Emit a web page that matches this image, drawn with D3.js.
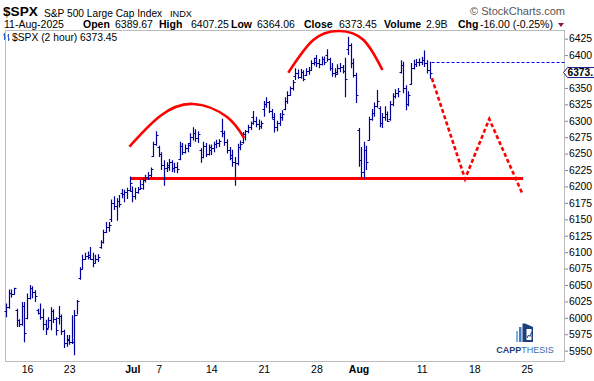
<!DOCTYPE html>
<html><head><meta charset="utf-8">
<script src="https://cdn.jsdelivr.net/npm/d3@7"></script>
<style>
html,body{margin:0;padding:0;background:#fff;}
svg{display:block;}
text{font-family:"Liberation Sans",Arial,sans-serif;}
</style></head>
<body>
<svg id="chart" width="594" height="381"></svg>
<script>
// ---- data: 2-hour OHLC bars, $SPX, 12-Jun-2025 .. 11-Aug-2025 ----
const opens = [
6010,6016,6038,6036, 6012,5996,5990,6018, 6000,6030,6046,6040, 6012,6008,6002,5990,
5985,5996,6010,5999, 6000,6003,5980,5962, 5966,5963,5963,6005, 6061,6075,6090,6094,
6096,6090,6084,6090, 6108,6115,6130,6138, 6150,6175,6170,6178, 6190,6188,6192,6194,
6193,6186,6192,6196, 6204,6210,6214,6218, 6246,6265, 6260,6250,6232,6228,
6233,6238,6228,6230, 6242,6262,6252,6258, 6266,6275,6282,6274, 6255,6245,6262,6250,
6255,6258,6264,6266, 6285,6282,6268,6255, 6248,6238,6235,6260, 6268,6280,6284,6290,
6305,6300,6295,6292, 6318,6325,6328,6315, 6302,6290,6296,6306, 6318,6330,6340,6350,
6368,6372,6366,6374, 6370,6376,6378,6388, 6396,6388,6386,6394, 6400,6394,6380,6372,
6375,6380,6382,6376, 6410,6415,6388,6370, 6286,6240,6222,6255, 6271,6302,6312,6322,
6320,6296,6305,6310, 6302,6325,6338,6342, 6375,6385,6350,6326, 6356,6380,6386,6390,
6390,6392,6388,6378];
const highs = [
6022,6043,6043,6046, 6014,5998,6024,6024, 6037,6050,6048,6042, 6014,6022,6014,5997,
6001,6016,6013,6001, 6018,6005,5982,5974, 5974,6004,6012,6027, 6077,6096,6099,6101,
6108,6099,6096,6097, 6118,6134,6146,6146, 6180,6185,6182,6187, 6196,6195,6198,6215,
6200,6198,6199,6210, 6212,6218,6222,6229, 6268,6284, 6262,6252,6240,6237,
6242,6240,6236,6237, 6268,6266,6264,6266, 6281,6290,6287,6284, 6258,6268,6266,6264,
6264,6268,6271,6272, 6303,6285,6272,6260, 6256,6245,6265,6270, 6283,6286,6294,6299,
6315,6306,6302,6300, 6330,6336,6330,6318, 6312,6300,6312,6316, 6336,6345,6352,6362,
6380,6378,6379,6377, 6380,6382,6392,6396, 6400,6394,6398,6398, 6409,6396,6388,6380,
6386,6388,6385,6396, 6428,6418,6395,6373, 6289,6260,6268,6262, 6306,6318,6328,6347,
6322,6312,6322,6314, 6330,6342,6348,6350, 6392,6390,6354,6345, 6388,6393,6394,6395,
6397,6407,6392,6390];
const lows = [
6001,6014,6031,6035, 5986,5986,5988,5963, 5998,6028,6030,6024, 6005,5997,5981,5974,
5984,5981,5992,5973, 5990,5974,5954,5956, 5959,5960,5943,6005, 6058,6074,6088,6089,
6088,6077,6083,6085, 6105,6113,6129,6131, 6146,6164,6148,6168, 6182,6176,6181,6192,
6176,6180,6189,6195, 6195,6206,6210,6214, 6245,6262, 6245,6225,6201,6222,
6224,6222,6221,6220, 6240,6248,6250,6252, 6260,6270,6268,6266, 6236,6243,6245,6247,
6248,6252,6258,6260, 6275,6262,6250,6240, 6230,6201,6232,6255, 6265,6270,6281,6286,
6294,6290,6286,6288, 6306,6320,6312,6303, 6282,6284,6292,6300, 6316,6326,6338,6346,
6362,6364,6364,6360, 6368,6370,6376,6384, 6382,6380,6384,6385, 6390,6376,6367,6366,
6370,6374,6372,6336, 6400,6380,6366,6327, 6230,6213,6212,6225, 6270,6300,6306,6320,
6290,6289,6300,6298, 6300,6322,6334,6336, 6372,6342,6316,6322, 6355,6378,6382,6383,
6385,6382,6372,6364];
const closes = [
6016,6038,6036,6045, 5996,5990,6018,5977, 6030,6046,6040,6033, 6008,6002,5990,5983,
5996,6010,5999,5981, 6003,5980,5962,5968, 5963,5963,6005,6025, 6075,6090,6094,6092,
6090,6084,6090,6092, 6115,6130,6138,6141, 6175,6170,6178,6173, 6188,6192,6194,6205,
6186,6192,6196,6198, 6210,6214,6218,6227, 6265,6279, 6250,6232,6228,6230,
6238,6228,6230,6226, 6262,6252,6258,6263, 6275,6282,6274,6280, 6245,6262,6250,6260,
6258,6264,6266,6269, 6282,6268,6255,6244, 6238,6235,6260,6264, 6280,6284,6290,6297,
6300,6295,6292,6297, 6325,6328,6315,6306, 6290,6296,6306,6310, 6330,6340,6350,6359,
6372,6366,6374,6363, 6376,6378,6388,6389, 6388,6386,6394,6390, 6394,6380,6372,6371,
6380,6382,6376,6363, 6415,6388,6370,6339, 6240,6222,6255,6238, 6302,6312,6322,6330,
6296,6305,6310,6299, 6325,6338,6342,6345, 6385,6350,6326,6340, 6380,6386,6390,6389,
6392,6388,6378,6373];

const xTickLabels = ["16","23","Jul","7","14","21","28","Aug","11","18","25"];
const xTickBars   = [8,24,48,58,78,98,118,134,158,178,198];
const xTickBold   = ["Jul","Aug"];
const yTicks = [5950,5975,6000,6025,6050,6075,6100,6125,6150,6175,6200,6225,6250,6275,6300,6325,6350,6400,6425];

// annotations (bar index, price)
const supportLevel = 6212;
const supportFrom = 47.5, supportTo = 196.6;
const leftShoulder = [[46.9,6260.6],[58.6,6307.3],[71.1,6325.6],[83.9,6306.2],[90.5,6273.8]];
const headArc = [[107.3,6373.2],[116.8,6423],[126.6,6436.7],[135.9,6423],[143.1,6377.3]];
const projection = [[161.9,6364.7],[174.5,6211.4],[183.7,6302.7],[196.2,6190]];
const prevClose = 6389.45;
const lastPrice = 6373.45;

const header = {
  sym:"$SPX", name:"S&P 500 Large Cap Index", exch:"INDX", date:"11-Aug-2025",
  open:"6389.67", high:"6407.25", low:"6364.06", close:"6373.45", volume:"2.9B", chg:"-16.00 (-0.25%)"
};

// ---- drawing ----
const svg = d3.select("#chart");
const L = 5, R = 565, T = 30, B = 361;
const x = d3.scaleLinear().domain([-0.4, 212.5]).range([L, R]);
const y = d3.scaleLinear().domain([5934.3, 6438.2]).range([B, T]);

// header
const h1 = svg.append("g");
h1.append("text").attr("x",3).attr("y",16).attr("font-size","13.6px").attr("font-weight","bold").text(header.sym);
h1.append("text").attr("x",44).attr("y",16.5).attr("font-size","10.2px").text(header.name);
h1.append("text").attr("x",170).attr("y",16.5).attr("font-size","9.2px").text(header.exch);
h1.append("text").attr("x",565).attr("y",14.5).attr("font-size","11px").attr("fill","#555").attr("text-anchor","end")
  .attr("font-family","'Open Sans',sans-serif").text("\u00A9 StockCharts.com");

const row2 = [
  [4,header.date,false],[83,"Open",true],[115,header.open,false],[159,"High",true],[191,header.high,false],
  [231,"Low",true],[257,header.low,false],[304,"Close",true],[339,header.close,false],
  [384,"Volume",true],[426,header.volume,false],[458,"Chg",true],[480,header.chg,false]
];
svg.append("g").selectAll("text").data(row2).join("text")
  .attr("x",d=>d[0]).attr("y",27.8).attr("font-size","10.5px")
  .attr("font-weight",d=>d[2]?"bold":"normal").text(d=>d[1]);
svg.append("path").attr("d","M558,23 L564,23 L561,27 Z").attr("fill","#8b1538");

// frame
svg.append("rect").attr("x",L+0.5).attr("y",T+0.5).attr("width",R-L-1).attr("height",B-T)
  .attr("fill","none").attr("stroke","#bcbcbc").attr("stroke-width",1);

// legend line inside plot
const lg = svg.append("g");
lg.append("path").attr("d","M4.5,33 V40 M3,35 H4.5 M4.5,38 H6 M8.5,34 V41 M7,36 H8.5 M8.5,39 H10")
  .attr("stroke","#3060c0").attr("stroke-width",1).attr("fill","none");
lg.append("text").attr("x",12).attr("y",40.5).attr("font-size","10.3px")
  .attr("font-family","'DejaVu Sans Mono',monospace").text("$SPX (2 hour) " + lastPrice.toFixed(2));

// y axis
const yAxis = d3.axisRight(y).tickValues(yTicks).tickSize(3).tickPadding(1).tickFormat(d3.format("d"));
const ya = svg.append("g").attr("transform",`translate(${R},0)`).call(yAxis);
ya.select(".domain").remove();
ya.selectAll(".tick line").attr("stroke","#888");
ya.selectAll(".tick text").attr("font-size","10.4px").attr("font-family","'Liberation Sans',Arial,sans-serif").attr("fill","#000");

// x axis
const xAxis = d3.axisBottom(x).tickValues(xTickBars).tickSize(0).tickPadding(5)
  .tickFormat((d,i)=>xTickLabels[i]);
const xa = svg.append("g").attr("transform",`translate(0,${B})`).call(xAxis);
xa.select(".domain").remove();
xa.selectAll(".tick text").attr("font-size","10.5px").attr("font-family","'Liberation Sans',Arial,sans-serif")
  .attr("fill","#000").attr("font-weight",(d,i)=>xTickBold.includes(xTickLabels[i])?"bold":"normal");

// support line
svg.append("line").attr("x1",x(supportFrom)).attr("x2",x(supportTo))
  .attr("y1",y(supportLevel)).attr("y2",y(supportLevel))
  .attr("stroke","#ff0000").attr("stroke-width",3);

// bars
const bars = d3.range(opens.length).map(i=>({i,o:opens[i],h:highs[i],l:lows[i],c:closes[i]}));
svg.append("g").selectAll("path").data(bars).join("path")
  .attr("d",d=>{
    const cx = Math.round(x(d.i))+0.5;
    const yo = Math.round(y(d.o))+0.5, yc = Math.round(y(d.c))+0.5;
    return `M${cx},${y(d.h)}V${y(d.l)}M${cx-2},${yo}H${cx}M${cx},${yc}H${cx+2}`;
  })
  .attr("stroke","#000099").attr("stroke-width",1.2).attr("fill","none");

// arcs
const lineGen = d3.line().x(d=>x(d[0])).y(d=>y(d[1])).curve(d3.curveNatural);
svg.append("path").attr("d",lineGen(leftShoulder)).attr("fill","none").attr("stroke","#ff0000").attr("stroke-width",2.6);
svg.append("path").attr("d",lineGen(headArc)).attr("fill","none").attr("stroke","#ff0000").attr("stroke-width",2.6);

// projection
const linear = d3.line().x(d=>x(d[0])).y(d=>y(d[1]));
svg.append("path").attr("d",linear(projection)).attr("fill","none").attr("stroke","#ff0000")
  .attr("stroke-width",2.6).attr("stroke-dasharray","4,2.5");

// previous close dashed line
svg.append("line").attr("x1",x(opens.length-1)+2).attr("x2",R)
  .attr("y1",Math.round(y(prevClose))+0.5).attr("y2",Math.round(y(prevClose))+0.5)
  .attr("stroke","#0000ff").attr("stroke-width",1).attr("stroke-dasharray","3,2");

// last price marker (label shown truncated, as on the original)
const yl = y(lastPrice);
svg.append("path").attr("d",`M${R-1.5},${yl} L${R+2.5},${yl-5} L600,${yl-5} L600,${yl+5} L${R+2.5},${yl+5} Z`)
  .attr("fill","#fff").attr("stroke","#1c1c8c").attr("stroke-width",1);
svg.append("text").attr("x",R+2.5).attr("y",yl+3.8).attr("font-size","10.2px").attr("font-weight","bold")
  .text(lastPrice.toFixed(2).slice(0,5));

// CAPPTHESIS logo
const lo = svg.append("g");
lo.append("rect").attr("x",516).attr("y",331).attr("width",2).attr("height",11).attr("fill","#7fb0e0");
lo.append("rect").attr("x",519).attr("y",327).attr("width",2.5).attr("height",15).attr("fill","#3f7cc8");
lo.append("rect").attr("x",522.5).attr("y",323.5).attr("width",2.5).attr("height",18.5).attr("fill","#1f3f7a");
lo.append("path").attr("d","M525,323.5 L533,327 L533,342 L525,342 Z").attr("fill","#1f3f7a");
lo.append("rect").attr("x",526.5).attr("y",329).attr("width",5).attr("height",11).attr("fill","#fff");
lo.append("path").attr("d","M527,338 L528.5,335 L530,336.5 L531.5,332").attr("stroke","#1f3f7a").attr("stroke-width",1).attr("fill","none");
const lt = lo.append("text").attr("x",525).attr("y",353).attr("text-anchor","middle").attr("font-size","9px")
  .attr("font-family","'Open Sans',Arial,sans-serif");
lt.append("tspan").attr("font-weight","bold").attr("fill","#1f3f7a").text("CAPP");
lt.append("tspan").attr("fill","#3d6aa8").text("THESIS");
</script>
</body></html>
